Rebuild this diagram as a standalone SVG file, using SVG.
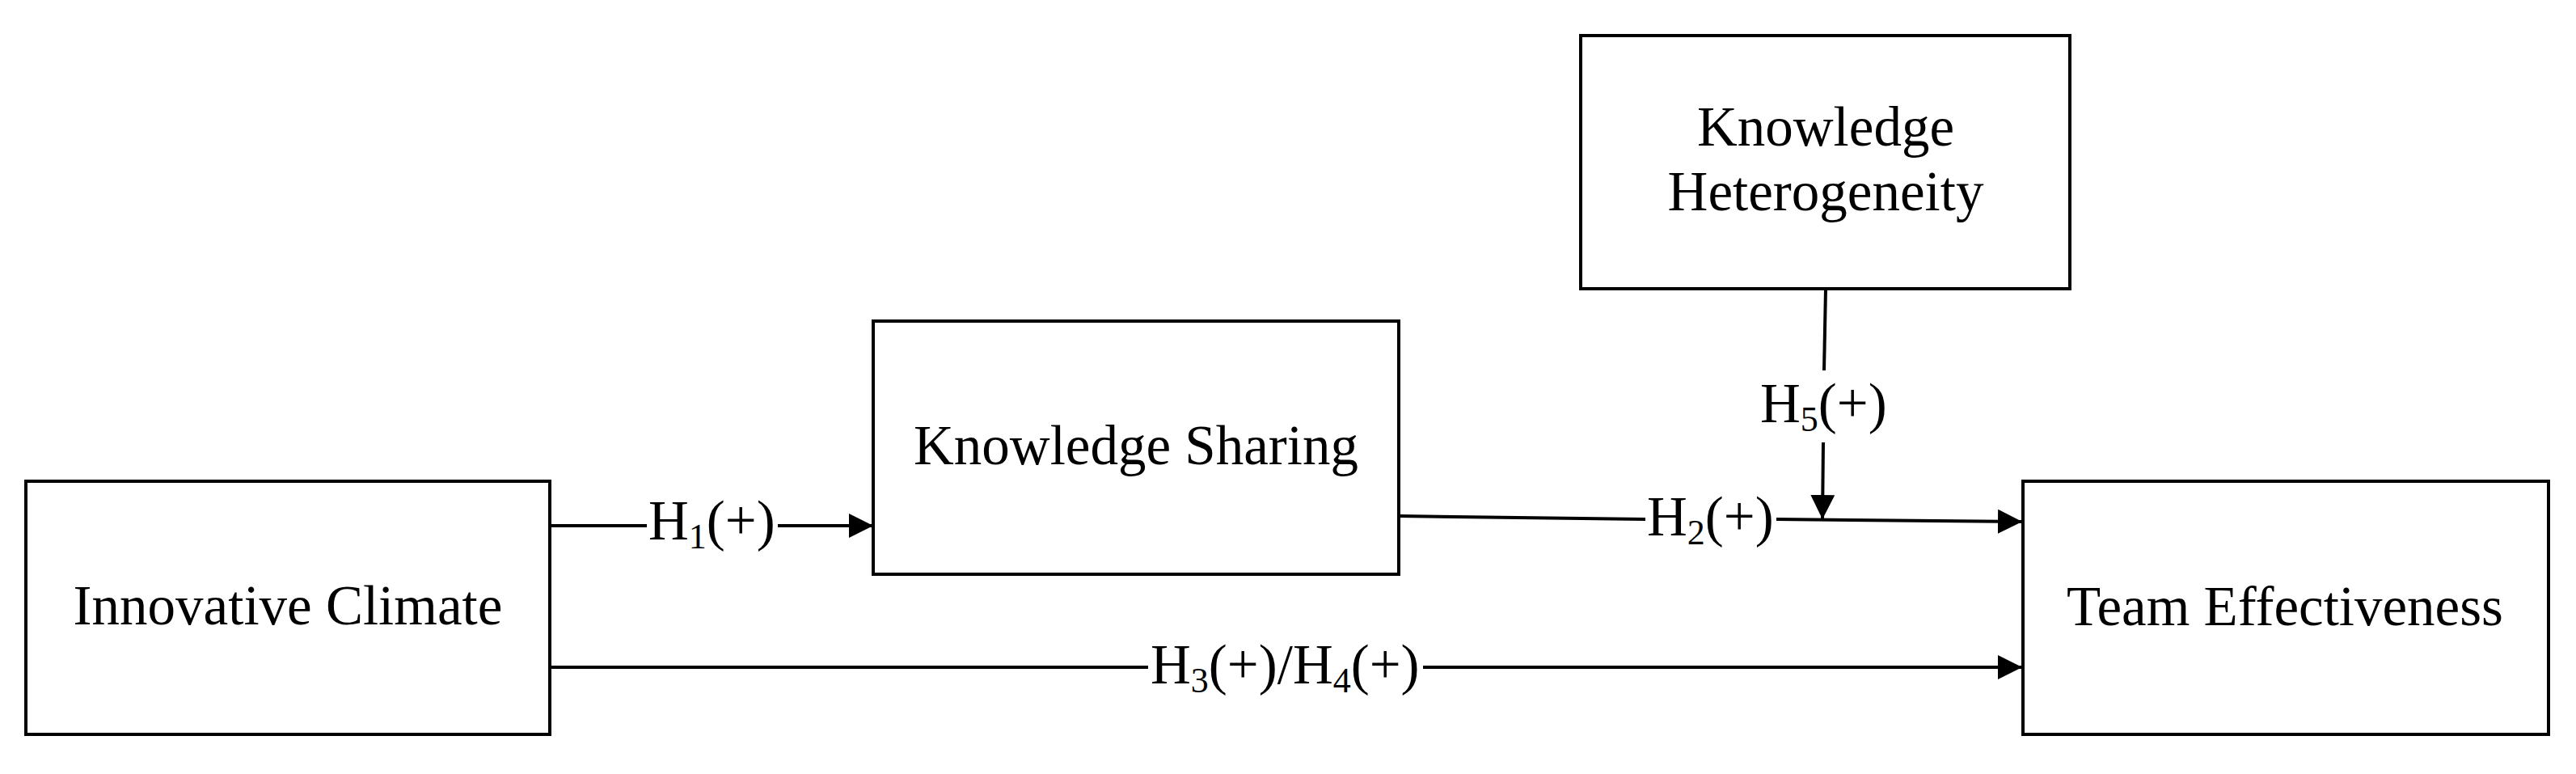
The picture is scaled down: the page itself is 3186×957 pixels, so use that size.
<svg xmlns="http://www.w3.org/2000/svg" width="3186" height="957" viewBox="0 0 3186 957">
<style>
.box{fill:#fff;stroke:#000;stroke-width:4}
.t{font-family:"Liberation Serif","Times New Roman",serif;font-size:69px;fill:#000}
.c{text-anchor:middle}
.ln{fill:none;stroke:#000;stroke-width:4}
</style>
<defs>
<marker id="arr" markerUnits="userSpaceOnUse" markerWidth="30" markerHeight="30" refX="30" refY="15" orient="auto">
<path d="M0,0 L30,15 L0,30 z" fill="#000"/>
</marker>
</defs>
<rect width="3186" height="957" fill="#fff"/>
<g id="innovative-climate">
<rect class="box" x="32" y="595" width="648" height="313"/>
<text class="t c" x="356" y="772">Innovative Climate</text>
</g>
<g id="knowledge-sharing">
<rect class="box" x="1080" y="397" width="650" height="313"/>
<text class="t c" x="1405" y="574">Knowledge Sharing</text>
</g>
<g id="knowledge-heterogeneity">
<rect class="box" x="1955" y="44" width="605" height="313"/>
<text class="t c" x="2258" y="180">Knowledge</text>
<text class="t c" x="2258" y="260">Heterogeneity</text>
</g>
<g id="team-effectiveness">
<rect class="box" x="2502" y="595" width="650" height="313"/>
<text class="t c" x="2826" y="773">Team Effectiveness</text>
</g>
<g id="connectors">
<path class="ln" d="M680,650 L800,650"/>
<path class="ln" d="M962,650 L1080,650" marker-end="url(#arr)"/>
<text class="t" x="802" y="667">H<tspan font-size="44" dy="11">1</tspan><tspan dy="-11">(+)</tspan></text>
<path class="ln" d="M1730,638 L2035,642"/>
<path class="ln" d="M2197,642 L2501,645" marker-end="url(#arr)"/>
<text class="t" x="2037" y="662">H<tspan font-size="44" dy="11">2</tspan><tspan dy="-11">(+)</tspan></text>
<path class="ln" d="M680,825 L1420,825"/>
<path class="ln" d="M1760,825 L2501,825" marker-end="url(#arr)"/>
<text class="t" x="1423" y="845">H<tspan font-size="44" dy="11">3</tspan><tspan dy="-11">(+)/H</tspan><tspan font-size="44" dy="11">4</tspan><tspan dy="-11">(+)</tspan></text>
<path class="ln" d="M2258,357 L2256,458"/>
<path class="ln" d="M2255,547 L2254,642" marker-end="url(#arr)"/>
<text class="t" x="2177" y="522">H<tspan font-size="44" dy="11">5</tspan><tspan dy="-11">(+)</tspan></text>
</g>
</svg>
